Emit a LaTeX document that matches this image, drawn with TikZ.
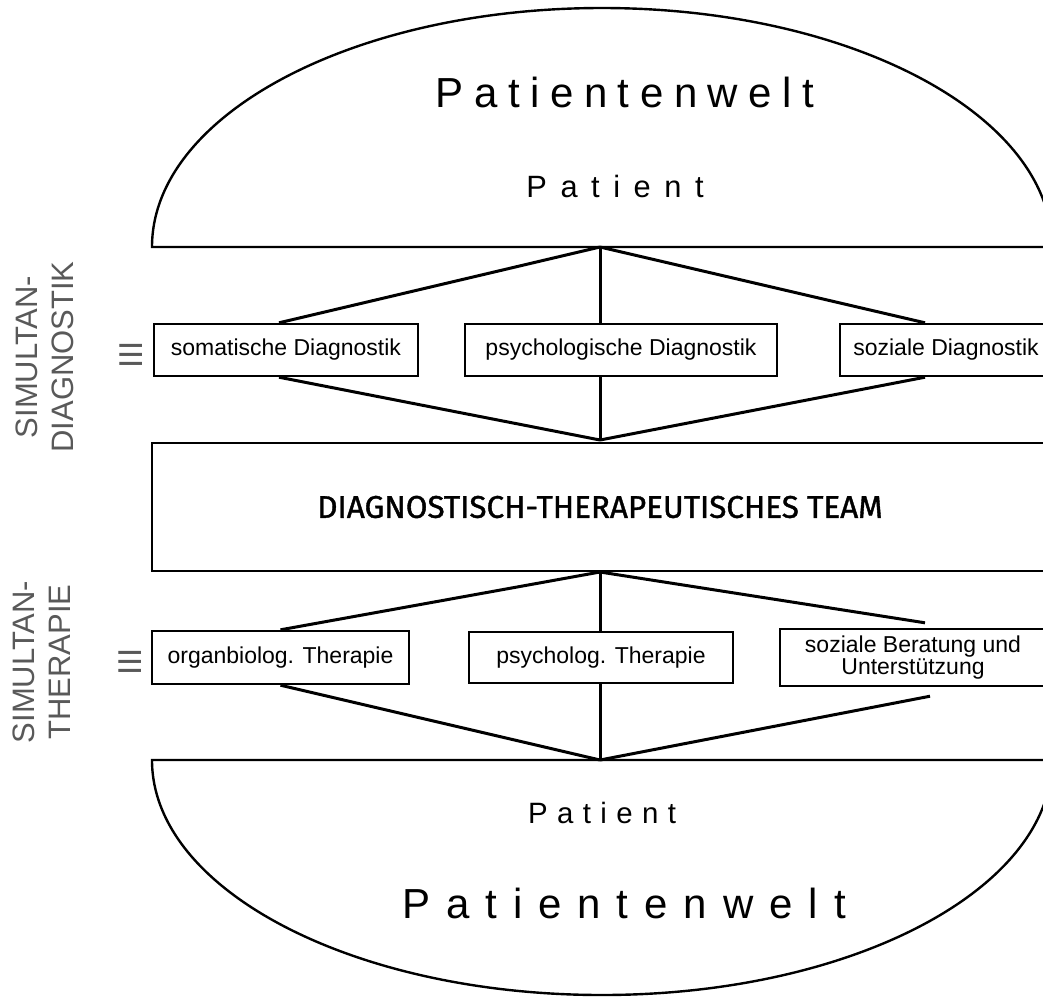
\documentclass[tikz,border=0pt]{standalone}
\usepackage{fontspec}
\setmainfont{Liberation Sans}
\newfontfamily\teamfont[FakeBold=1.2]{Fira Sans}
\usetikzlibrary{calc}
\definecolor{LabelClr}{rgb}{0.35,0.35,0.35}

\begin{document}
\begin{tikzpicture}[x=0.5pt,y=-0.5pt,line width=1.2pt,
  boxnode/.style={draw,fill=white,inner sep=0pt,minimum height=26pt,align=center,font=\fontsize{11.5}{11}\selectfont},
  conn/.style={line width=1.5pt},
  sidelabel/.style={rotate=90,align=center,text=LabelClr,font=\fontsize{15.5}{18}\selectfont},
  triple/.style={rotate=90,text=LabelClr,font=\fontsize{16.5}{16}\selectfont}]
\clip (0,0) rectangle (1043,996);

\coordinate (DT) at (600,247);
\coordinate (DB) at (600,440);
\coordinate (TT) at (600,572);
\coordinate (TB) at (600,760);

% Patientenwelt
\draw (152,247) arc[start angle=180,end angle=0,x radius=225pt,y radius=119.5pt] -- cycle;
\draw (152,760) arc[start angle=180,end angle=360,x radius=225pt,y radius=117.5pt] -- cycle;

\node[anchor=base,font=\fontsize{21}{25}\selectfont\addfontfeatures{LetterSpace=25}] (weltT) at (625,107) {Patientenwelt};
\node[anchor=base,font=\fontsize{15.4}{18}\selectfont\addfontfeatures{LetterSpace=44}] (patT) at (615,197) {Patient};
\node[anchor=base,font=\fontsize{14.7}{18}\selectfont\addfontfeatures{LetterSpace=32}] (patB) at (602,823) {Patient};
\node[anchor=base,font=\fontsize{21}{25}\selectfont\addfontfeatures{LetterSpace=38}] (weltB) at (624,918) {Patientenwelt};

% Diagnostik
\node[boxnode,minimum width=132pt] (som) at (286,350) {somatische Diagnostik};
\node[boxnode,minimum width=156pt] (psyD) at (621,350) {psychologische Diagnostik};
\node[boxnode,minimum width=106pt] (sozD) at (946,350) {soziale Diagnostik};

\draw[conn] (DT) -- ([xshift=-3.5pt]som.north);
\draw[conn] ([xshift=-3.5pt]som.south) -- (DB);
\draw[conn] (DT) -- (DT |- psyD.north);
\draw[conn] (DT |- psyD.south) -- (DB);
\draw[conn] (DT) -- ([xshift=-10.5pt]sozD.north);
\draw[conn] ([xshift=-10.5pt]sozD.south) -- (DB);

\node[draw,inner sep=0pt,minimum width=448pt,minimum height=64pt,font=\teamfont\fontsize{15.7}{16}\selectfont] (team) at (600,507) {DIAGNOSTISCH-THERAPEUTISCHES TEAM};

% Therapie
\node[boxnode,minimum width=128.5pt,minimum height=26.5pt] (org) at (280.5,657.5) {organbiolog. Therapie};
\node[boxnode,minimum width=132pt,minimum height=25.5pt] (psyT) at (601,657.5) {psycholog. Therapie};
\node[boxnode,minimum width=133pt,minimum height=28.5pt] (ber) at (913,657.5) {soziale Beratung und\\Unterstützung};

\draw[conn] (TT) -- (org.north);
\draw[conn] (org.south) -- (TB);
\draw[conn] (TT) -- (TT |- psyT.north);
\draw[conn] (TT |- psyT.south) -- (TB);
\draw[conn] (TT) -- ([xshift=6pt,yshift=2.5pt]ber.north);
\draw[conn] ([xshift=8.5pt,yshift=-4.5pt]ber.south) -- (TB);

\node[sidelabel] (simD) at (45,357) {SIMULTAN-\\DIAGNOSTIK};
\node[sidelabel] (simT) at (42,662) {SIMULTAN-\\THERAPIE};
\node[triple] (eqD) at (131,355) {III};
\node[triple] (eqT) at (130,662) {III};
\end{tikzpicture}
\end{document}
